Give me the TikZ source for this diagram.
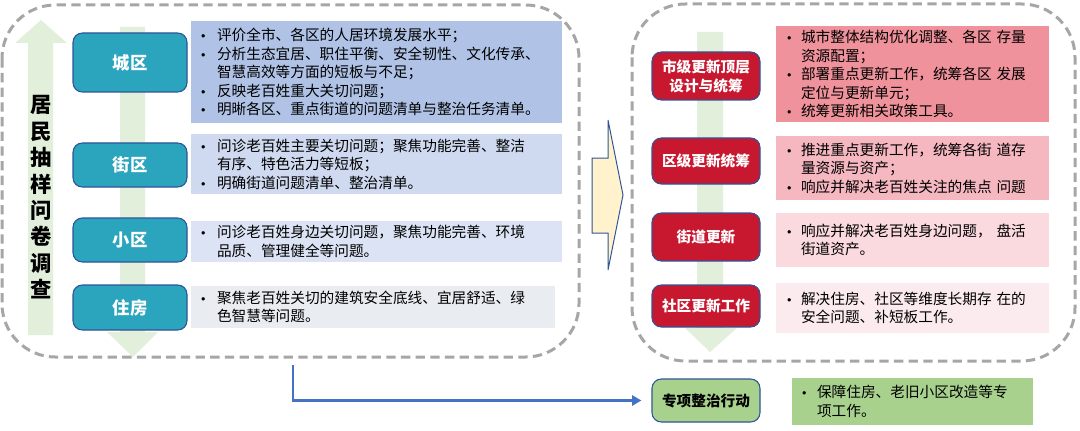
\documentclass[tikz,border=0pt]{standalone}
\usepackage{fontspec}
\setmainfont{Noto Sans CJK SC}
\usetikzlibrary{arrows.meta}
\definecolor{framegray}{RGB}{166,166,166}
\definecolor{boxline}{RGB}{47,85,151}
\definecolor{tealfill}{RGB}{43,164,189}
\definecolor{redfill}{RGB}{200,24,48}
\definecolor{greenfill}{RGB}{169,209,142}
\definecolor{shaftgreen}{RGB}{226,239,218}
\definecolor{yellowfill}{RGB}{255,242,204}
\definecolor{linkblue}{RGB}{68,114,196}
\definecolor{blueA}{RGB}{176,195,230}
\definecolor{blueB}{RGB}{207,218,240}
\definecolor{blueC}{RGB}{220,227,244}
\definecolor{grayD}{RGB}{233,237,242}
\definecolor{pinkA}{RGB}{240,146,156}
\definecolor{pinkB}{RGB}{245,183,192}
\definecolor{pinkC}{RGB}{250,217,223}
\definecolor{pinkD}{RGB}{252,235,238}
\newlength{\bulw}
\setlength{\bulw}{12pt}
\newcommand{\bulmark}{\makebox[\bulw][l]{\raisebox{0.25ex}{\scalebox{0.6}{$\bullet$}}}}
\newcommand{\bulskip}{\hspace*{\bulw}}
\tikzset{
    dashframe/.style={draw=framegray, line width=2.25pt, dash pattern=on 7pt off 4pt, rounded corners=40pt},
    tealbox/.style={draw=boxline, fill=tealfill, line width=0.8pt, rounded corners=7pt, minimum width=85.5pt, text=white, font=\bfseries\fontsize{13}{15}\selectfont},
    redbox/.style={draw=boxline, fill=redfill, line width=0.8pt, rounded corners=7pt, minimum width=81pt, text=white, align=center, font=\bfseries\fontsize{11}{14.3}\selectfont},
    greenbox/.style={redbox, fill=greenfill, text=black},
    txtbox/.style={inner xsep=7.5pt, align=left, font=\fontsize{11}{13.9}\selectfont},
    rtxtbox/.style={txtbox, inner xsep=8.25pt, font=\fontsize{11}{13.9}\selectfont\setlength{\bulw}{10.5pt}},
    shaft/.style={fill=shaftgreen},
    linkarrow/.style={draw=linkblue, line width=2pt, -{Triangle[length=7pt,width=7.5pt]}}
}
\begin{document}
\begin{tikzpicture}[x=0.75pt,y=-0.75pt]
    \useasboundingbox (0,0) rectangle (1080,431);
    % green arrows behind
    \fill[shaft] (28,335) -- (28,43) -- (15,43) -- (41,20) -- (67,43) -- (53,43) -- (53,335) -- cycle;
    \fill[shaft] (120,27) -- (145,27) -- (145,332) -- (158,332) -- (133,357) -- (107,332) -- (120,332) -- cycle;
    \fill[shaft] (697,32) -- (723,32) -- (723,328) -- (737,328) -- (710,352) -- (685,328) -- (697,328) -- cycle;
    % frames
    \draw[dashframe] (2,5) rectangle (579,357);
    \draw[dashframe] (632,4) rectangle (1075,361);
    \draw[draw=boxline, fill=yellowfill, line width=0.75pt] (592,158) -- (608,158) -- (608,120) -- (623,195) -- (608,270) -- (608,233) -- (592,233) -- cycle;
    \node[font=\bfseries\fontsize{16}{19.8}\selectfont, align=center] (survey) at (41,197.5) {居\\民\\抽\\样\\问\\卷\\调\\查};
    % left levels
    \node[tealbox, minimum height=44.25pt] (cq) at (130,62.5) {城区};
    \node[tealbox, minimum height=33pt] (jq) at (130,165) {街区};
    \node[tealbox, minimum height=33pt] (xq) at (130,240) {小区};
    \node[tealbox, minimum height=33.75pt] (zf) at (130,307.5) {住房};
    \node[txtbox, fill=blueA, text width=263.25pt, minimum height=76.5pt] (cqt) at (376.5,72) {\bulmark 评价全市、各区的人居环境发展水平；\\ \bulmark 分析生态宜居、职住平衡、安全韧性、文化传承、\\ \bulskip 智慧高效等方面的短板与不足；\\ \bulmark 反映老百姓重大关切问题；\\ \bulmark 明晰各区、重点街道的问题清单与整治任务清单。};
    \node[txtbox, fill=blueB, text width=263.25pt, minimum height=43.5pt] (jqt) at (376.5,164) {\bulmark 问诊老百姓主要关切问题；聚焦功能完善、整洁\\ \bulskip 有序、特色活力等短板；\\ \bulmark 明确街道问题清单、整治清单。};
    \node[txtbox, fill=blueC, text width=263.25pt, minimum height=30.75pt] (xqt) at (376.5,241.5) {\bulmark 问诊老百姓身边关切问题，聚焦功能完善、环境\\ \bulskip 品质、管理健全等问题。};
    \node[txtbox, fill=grayD, text width=258pt, minimum height=30pt] (zft) at (373,307) {\bulmark 聚焦老百姓关切的建筑安全底线、宜居舒适、绿\\ \bulskip 色智慧等问题。};
    % right levels
    \node[redbox, minimum height=36pt] (sj) at (706,76) {市级更新顶层\\设计与统筹};
    \node[redbox, minimum height=34.5pt] (qj) at (706,161) {区级更新统筹};
    \node[redbox, minimum height=36pt] (jd) at (706,237) {街道更新};
    \node[redbox, minimum height=31.5pt] (sq) at (706,306) {社区更新工作};
    \node[rtxtbox, fill=pinkA, text width=188.25pt, minimum height=72pt] (sjt) at (912.5,74) {\bulmark 城市整体结构优化调整、各区 存量\\ \bulskip 资源配置；\\ \bulmark 部署重点更新工作，统筹各区 发展\\ \bulskip 定位与更新单元；\\ \bulmark 统筹更新相关政策工具。};
    \node[rtxtbox, fill=pinkB, text width=188.25pt, minimum height=48pt] (qjt) at (912.5,168) {\bulmark 推进重点更新工作，统筹各街 道存\\ \bulskip 量资源与资产；\\ \bulmark 响应并解决老百姓关注的焦点 问题};
    \node[rtxtbox, fill=pinkC, text width=188.25pt, minimum height=40.5pt] (jdt) at (912.5,240) {\bulmark 响应并解决老百姓身边问题， 盘活\\ \bulskip 街道资产。};
    \node[rtxtbox, fill=pinkD, text width=188.25pt, minimum height=37.5pt] (sqt) at (912.5,308) {\bulmark 解决住房、社区等维度长期存 在的\\ \bulskip 安全问题、补短板工作。};
    % special action
    \node[greenbox, minimum height=32.25pt] (zx) at (706,400.5) {专项整治行动};
    \node[txtbox, fill=greenfill, text width=165.75pt, minimum height=35.25pt, font=\fontsize{11}{13.9}\selectfont\setlength{\bulw}{11.25pt}] (zxt) at (912.5,401.5) {\bulmark 保障住房、老旧小区改造等专\\ \bulskip 项工作。};
    \coordinate (linkstart) at (293,365);
    \draw[linkarrow] (linkstart) |- ([xshift=-7.5pt]zx.west);
\end{tikzpicture}
\end{document}
